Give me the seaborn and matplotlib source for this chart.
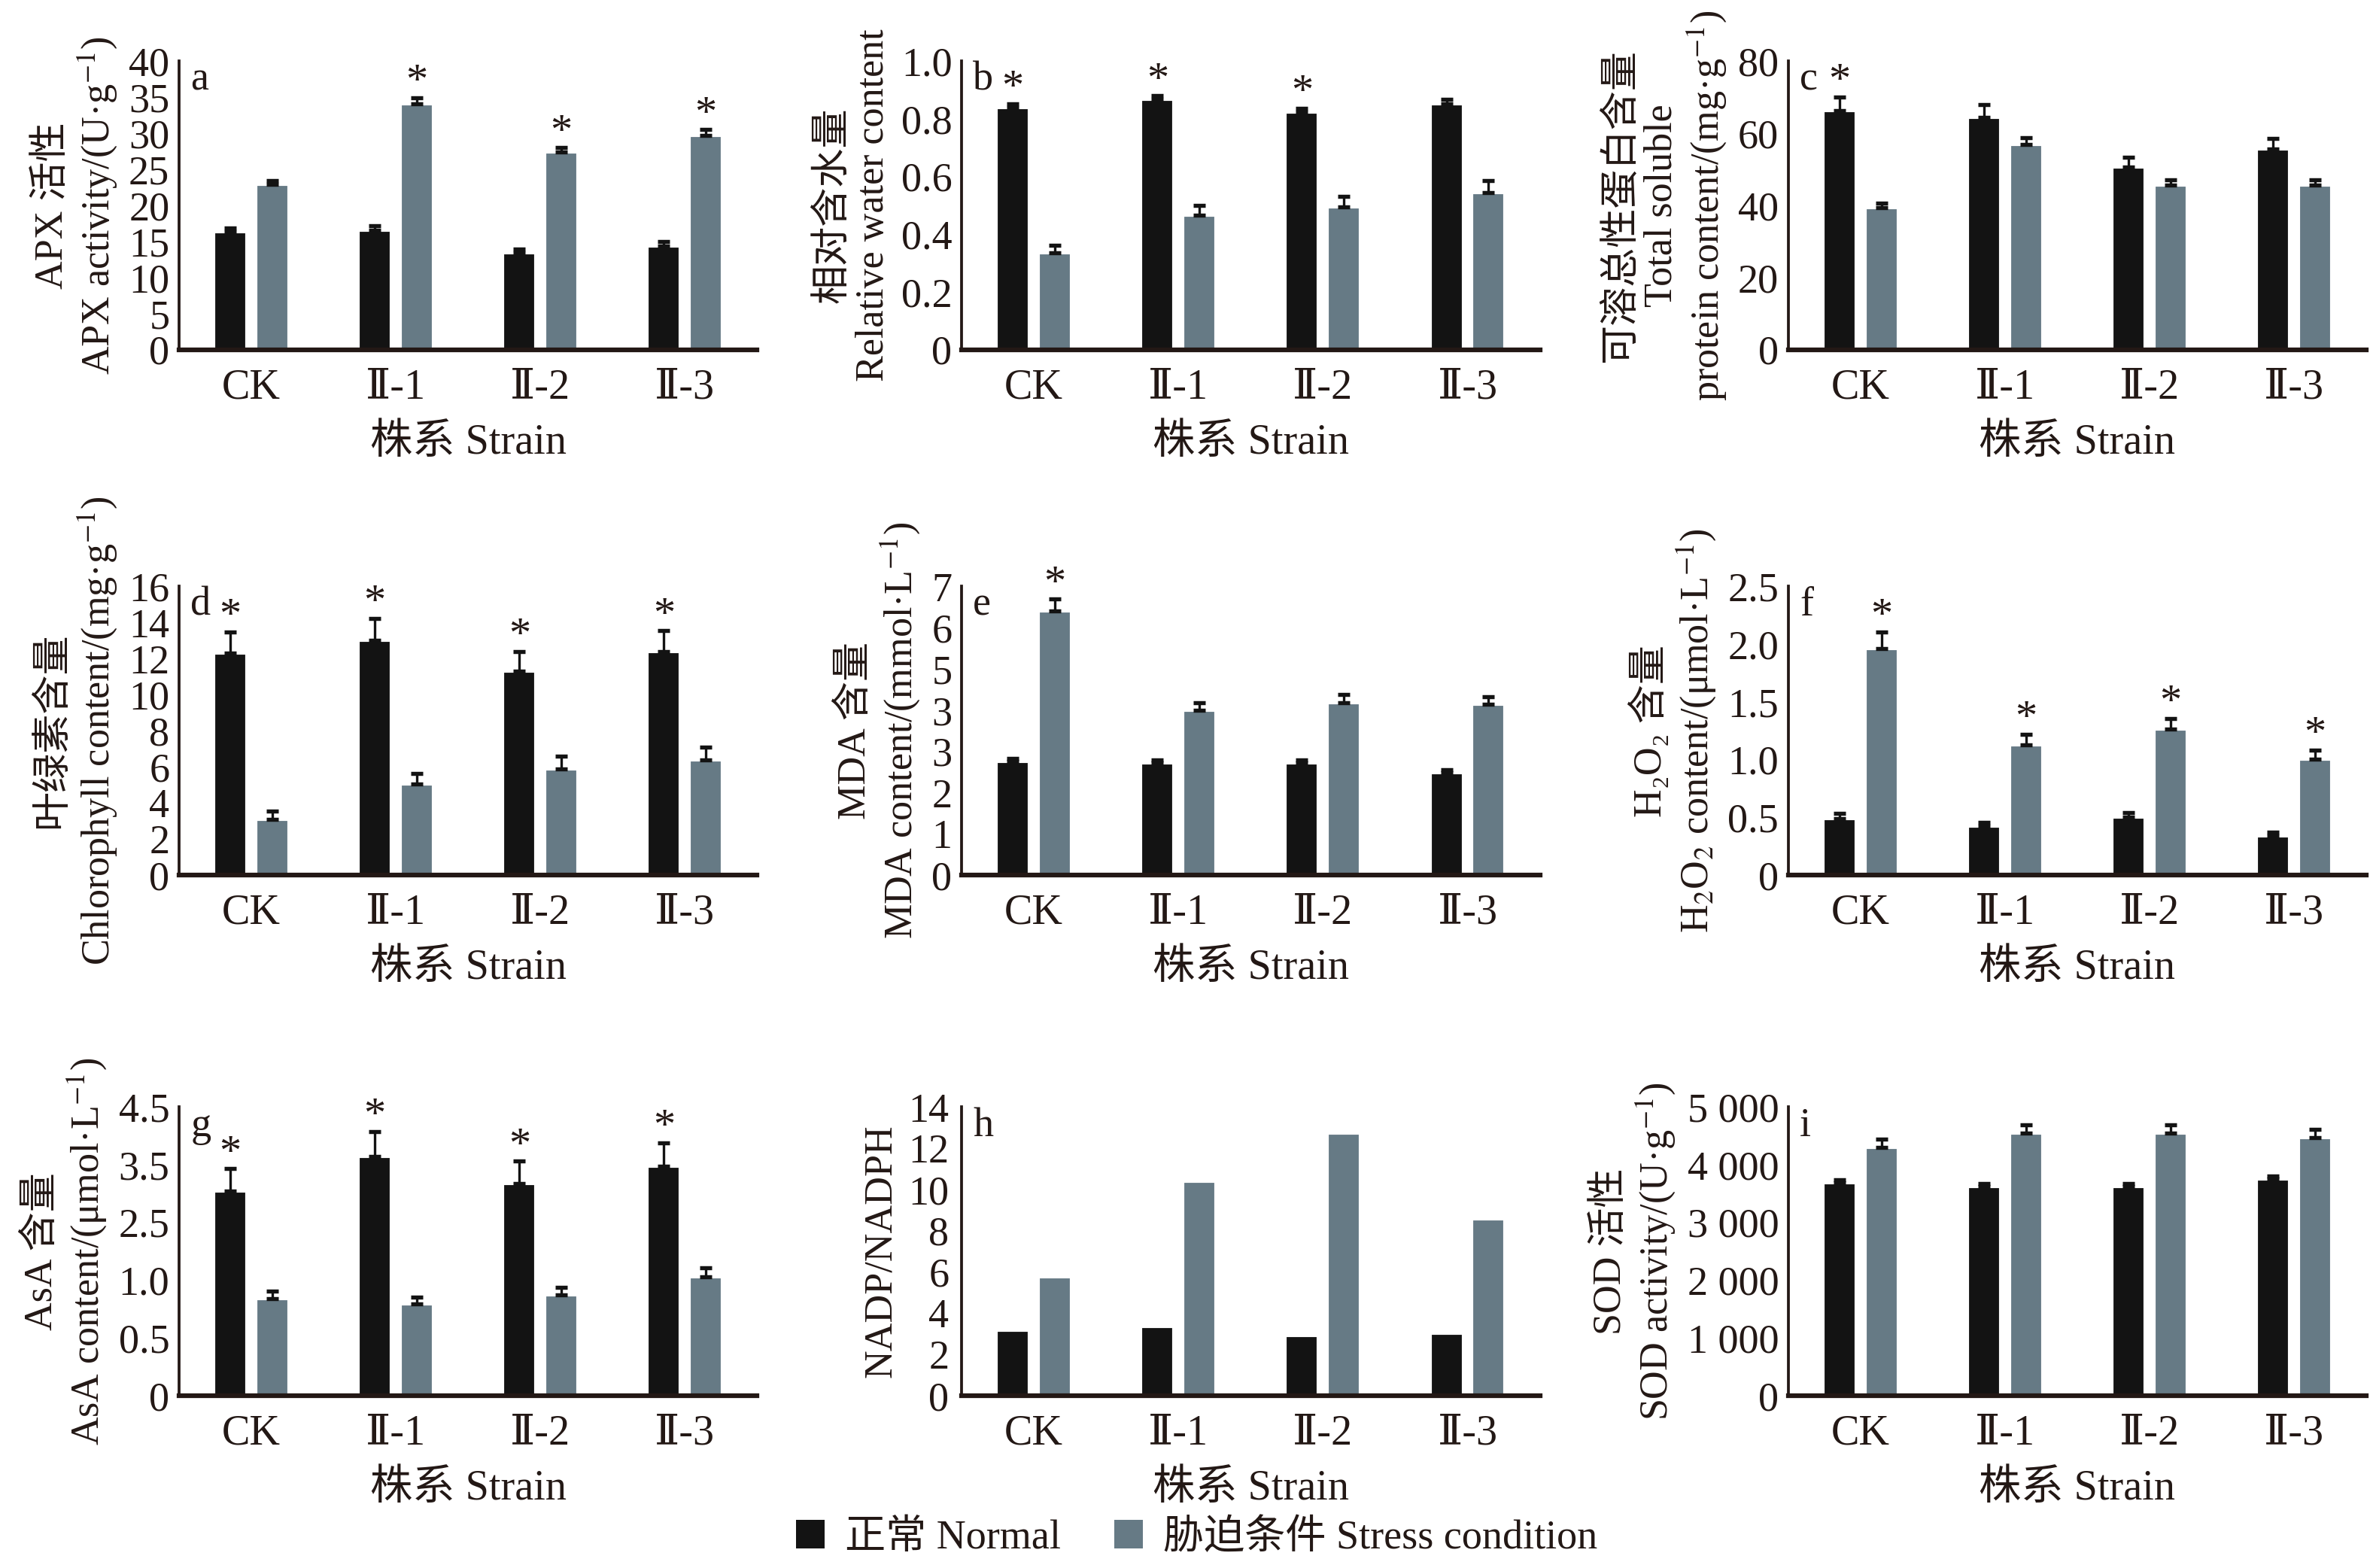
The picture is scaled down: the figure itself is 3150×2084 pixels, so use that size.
import numpy as np
import pandas as pd
import matplotlib
matplotlib.use("Agg")
import matplotlib.pyplot as plt
import seaborn as sns
from matplotlib.patches import Patch
from matplotlib.ticker import FixedLocator, FixedFormatter

# Categories
strains = ["CK", "Ⅱ-1", "Ⅱ-2", "Ⅱ-3"]
conditions = ["正常 Normal", "胁迫条件 Stress condition"]

# a: APX activity
apx_normal = [16.3, 16.6, 13.4, 14.4]
apx_normal_err = [0.6, 0.6, 0.5, 0.6]
apx_stress = [22.9, 34.1, 27.4, 29.7]
apx_stress_err = [0.55, 0.8, 0.6, 0.8]
apx_star_normal = [0, 0, 0, 0]
apx_star_stress = [0, 1, 1, 1]

# b: relative water content
rwc_normal = [0.840, 0.867, 0.823, 0.853]
rwc_normal_err = [0.013, 0.013, 0.014, 0.014]
rwc_stress = [0.336, 0.466, 0.496, 0.545]
rwc_stress_err = [0.026, 0.035, 0.035, 0.042]
rwc_star_normal = [1, 1, 1, 0]
rwc_star_stress = [0, 0, 0, 0]

# c: total soluble protein
prot_normal = [66.3, 64.4, 50.6, 55.6]
prot_normal_err = [3.7, 3.5, 2.8, 3.0]
prot_stress = [39.4, 56.9, 45.6, 45.6]
prot_stress_err = [1.2, 1.9, 1.5, 1.5]
prot_star_normal = [1, 0, 0, 0]
prot_star_stress = [0, 0, 0, 0]

# d: chlorophyll
chl_normal = [12.3, 13.0, 11.3, 12.4]
chl_normal_err = [1.17, 1.23, 1.09, 1.14]
chl_stress = [3.1, 5.04, 5.88, 6.39]
chl_stress_err = [0.43, 0.6, 0.71, 0.71]
chl_star_normal = [1, 1, 1, 1]
chl_star_stress = [0, 0, 0, 0]

# e: MDA
mda_normal = [2.76, 2.71, 2.71, 2.48]
mda_normal_err = [0.07, 0.08, 0.08, 0.07]
mda_stress = [6.40, 4.00, 4.17, 4.15]
mda_stress_err = [0.29, 0.17, 0.2, 0.18]
mda_star_normal = [0, 0, 0, 0]
mda_star_stress = [1, 0, 0, 0]

# f: H2O2
h2o2_normal = [0.489, 0.424, 0.498, 0.340]
h2o2_normal_err = [0.044, 0.033, 0.044, 0.032]
h2o2_stress = [1.961, 1.130, 1.262, 1.001]
h2o2_stress_err = [0.144, 0.088, 0.093, 0.082]
h2o2_star_normal = [0, 0, 0, 0]
h2o2_star_stress = [1, 1, 1, 1]

# g: AsA
asa_normal = [3.05, 3.64, 3.17, 3.47]
asa_normal_err = [0.38, 0.44, 0.39, 0.41]
asa_stress = [0.837, 0.791, 0.874, 1.077]
asa_stress_err = [0.069, 0.063, 0.063, 0.24]
asa_star_normal = [1, 1, 1, 1]
asa_star_stress = [0, 0, 0, 0]

# h: NADP/NADPH
nadp_normal = [3.16, 3.35, 2.92, 3.01]
nadp_stress = [5.76, 10.39, 12.72, 8.58]

# i: SOD
sod_normal = [3686, 3623, 3623, 3754]
sod_normal_err = [57, 51, 51, 46]
sod_stress = [4303, 4543, 4543, 4469]
sod_stress_err = [137, 143, 143, 142]
sod_star_normal = [0, 0, 0, 0]
sod_star_stress = [0, 0, 0, 0]

# y tick values / labels
apx_ticks = [0, 5, 10, 15, 20, 25, 30, 35, 40]
rwc_ticks = [0, 0.2, 0.4, 0.6, 0.8, 1.0]
rwc_labels = ["0", "0.2", "0.4", "0.6", "0.8", "1.0"]
prot_ticks = [0, 20, 40, 60, 80]
chl_ticks = [0, 2, 4, 6, 8, 10, 12, 14, 16]
mda_ticks = [0, 1, 2, 3, 4, 5, 6, 7]
mda_labels = ["0", "1", "2", "3", "3", "5", "6", "7"]
h2o2_ticks = [0, 0.5, 1.0, 1.5, 2.0, 2.5]
h2o2_labels = ["0", "0.5", "1.0", "1.5", "2.0", "2.5"]
asa_ticks = [0, 0.5, 1.0, 2.5, 3.5, 4.5]
asa_labels = ["0", "0.5", "1.0", "2.5", "3.5", "4.5"]
nadp_ticks = [0, 2, 4, 6, 8, 10, 12, 14]
sod_ticks = [0, 1000, 2000, 3000, 4000, 5000]
sod_labels = ["0", "1 000", "2 000", "3 000", "4 000", "5 000"]

BLACK = "#131313"
GREY = "#667a85"
INK = "#231815"

sns.set_theme(style="white")
plt.rcParams["font.family"] = ["Liberation Serif", "DejaVu Serif", "Noto Sans CJK SC"]
plt.rcParams["mathtext.fontset"] = "stix"
plt.rcParams["axes.unicode_minus"] = False
plt.rcParams["text.color"] = INK
plt.rcParams["axes.labelcolor"] = INK
plt.rcParams["xtick.color"] = INK
plt.rcParams["ytick.color"] = INK

fig = plt.figure(figsize=(10.5, 6.9467), dpi=300)

lefts = [0.0755, 0.4057, 0.7545]
bottoms = [0.777, 0.442, 0.110]
W, H = 0.244, 0.184


def draw_panel(ax, normal, stress, nerr, serr, nstar, sstar, ticks, labels,
               ylabel, letter, minor_y=None, scale=None):
    df = pd.DataFrame({
        "strain": strains * 2,
        "cond": [conditions[0]] * 4 + [conditions[1]] * 4,
        "value": list(normal) + list(stress),
    })
    if scale is not None:
        ax.set_yscale("function", functions=scale)
    sns.barplot(data=df, x="strain", y="value", hue="cond",
                palette=[BLACK, GREY], saturation=1, width=0.58, gap=0.21,
                errorbar=None, legend=False, ax=ax)

    groups = [(normal, nerr, nstar), (stress, serr, sstar)]
    for cont, (vals, errs, stars) in zip(ax.containers, groups):
        xs = [b.get_x() + b.get_width() / 2 for b in cont]
        if errs is None:
            continue
        ax.errorbar(xs, vals, yerr=[np.zeros(len(vals)), errs], fmt="none",
                    ecolor=BLACK, elinewidth=0.8, capsize=2.0, capthick=1.3)
        for x, v, e, s in zip(xs, vals, errs, stars):
            if s:
                ax.annotate("*", (x, v + e), xytext=(0, -1.5),
                            textcoords="offset points", ha="center",
                            va="bottom", fontsize=14, color=INK)

    ax.set_xlim(-0.5, 3.5)
    ax.set_ylim(ticks[0], ticks[-1])
    ax.xaxis.set_minor_locator(FixedLocator([0.5, 1.5, 2.5, 3.5]))
    ax.tick_params(axis="x", which="major", length=0, pad=6, labelsize=13.5)
    ax.tick_params(axis="x", which="minor", direction="in", length=3,
                   width=0.8, color=INK)
    ax.yaxis.set_major_locator(FixedLocator(ticks))
    ax.yaxis.set_major_formatter(FixedFormatter(labels))
    if minor_y is not None:
        ax.yaxis.set_minor_locator(FixedLocator(minor_y))
        ax.tick_params(axis="y", which="major", length=0, pad=4,
                       labelsize=13)
        ax.tick_params(axis="y", which="minor", direction="in", length=3,
                       width=0.8, color=INK)
    else:
        ax.tick_params(axis="y", which="major", direction="in", length=3,
                       width=0.8, pad=3, labelsize=13, color=INK)
    sns.despine(ax=ax)
    ax.spines["left"].set_linewidth(0.9)
    ax.spines["bottom"].set_linewidth(1.5)
    ax.spines["left"].set_color(INK)
    ax.spines["bottom"].set_color(INK)
    ax.set_xlabel("株系 Strain", fontsize=13.5, labelpad=5)
    ax.set_ylabel(ylabel, fontsize=12.5, linespacing=1.15, labelpad=3)
    ax.text(0.02, 1.0, letter, transform=ax.transAxes, ha="left", va="top",
            fontsize=13, color=INK)


def asa_fwd(v):
    return np.interp(v, asa_ticks, np.arange(len(asa_ticks)))


def asa_inv(v):
    return np.interp(v, np.arange(len(asa_ticks)), asa_ticks)


axes = [[fig.add_axes([l, b, W, H]) for l in lefts] for b in bottoms]

draw_panel(axes[0][0], apx_normal, apx_stress, apx_normal_err, apx_stress_err,
           apx_star_normal, apx_star_stress, apx_ticks,
           [str(t) for t in apx_ticks],
           "APX 活性\nAPX activity/(U·g$^{-1}$)", "a")
draw_panel(axes[0][1], rwc_normal, rwc_stress, rwc_normal_err, rwc_stress_err,
           rwc_star_normal, rwc_star_stress, rwc_ticks, rwc_labels,
           "相对含水量\nRelative water content", "b")
draw_panel(axes[0][2], prot_normal, prot_stress, prot_normal_err,
           prot_stress_err, prot_star_normal, prot_star_stress, prot_ticks,
           [str(t) for t in prot_ticks],
           "可溶总性蛋白含量\nTotal soluble\nprotein content/(mg·g$^{-1}$)", "c")
draw_panel(axes[1][0], chl_normal, chl_stress, chl_normal_err, chl_stress_err,
           chl_star_normal, chl_star_stress, chl_ticks,
           [str(t) for t in chl_ticks],
           "叶绿素含量\nChlorophyll content/(mg·g$^{-1}$)", "d")
draw_panel(axes[1][1], mda_normal, mda_stress, mda_normal_err, mda_stress_err,
           mda_star_normal, mda_star_stress, mda_ticks, mda_labels,
           "MDA 含量\nMDA content/(mmol·L$^{-1}$)", "e")
draw_panel(axes[1][2], h2o2_normal, h2o2_stress, h2o2_normal_err,
           h2o2_stress_err, h2o2_star_normal, h2o2_star_stress, h2o2_ticks,
           h2o2_labels,
           "H₂O₂ 含量\nH$_2$O$_2$ content/(μmol·L$^{-1}$)", "f")
draw_panel(axes[2][0], asa_normal, asa_stress, asa_normal_err, asa_stress_err,
           asa_star_normal, asa_star_stress, asa_ticks, asa_labels,
           "AsA 含量\nAsA content/(μmol·L$^{-1}$)", "g",
           scale=(asa_fwd, asa_inv))
draw_panel(axes[2][1], nadp_normal, nadp_stress, None, None, None, None,
           nadp_ticks, [str(t) for t in nadp_ticks], "NADP/NADPH", "h",
           minor_y=np.linspace(0, 14, 6))
draw_panel(axes[2][2], sod_normal, sod_stress, sod_normal_err, sod_stress_err,
           sod_star_normal, sod_star_stress, sod_ticks, sod_labels,
           "SOD 活性\nSOD activity/(U·g$^{-1}$)", "i")

handles = [Patch(facecolor=BLACK, edgecolor="none"),
           Patch(facecolor=GREY, edgecolor="none")]
fig.legend(handles, conditions, loc="center", bbox_to_anchor=(0.505, 0.019),
           ncol=2, frameon=False, fontsize=13, handlelength=0.7,
           handleheight=0.7, handletextpad=0.5, columnspacing=1.3)

fig.savefig("out.png", dpi=300)
